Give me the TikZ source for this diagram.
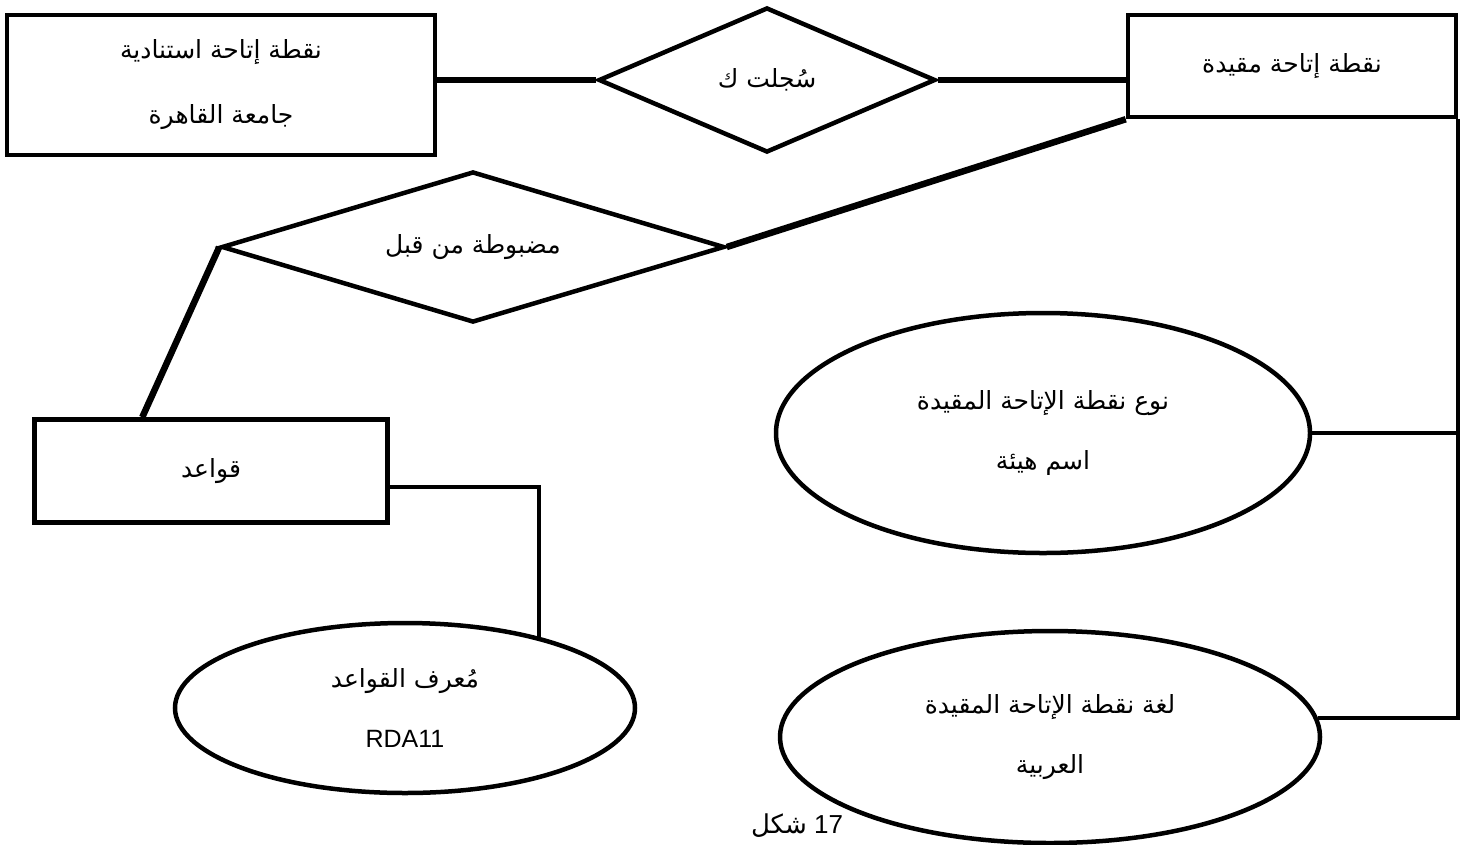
\documentclass[tikz,border=0pt]{standalone}
\usepackage{fontspec}
\setmainfont{Liberation Sans}
\newfontfamily\arabicfont[Script=Arabic]{DejaVu Sans}
\TeXXeTstate=1
\usetikzlibrary{shapes.geometric,calc}
\newcommand{\artxt}[1]{{\arabicfont\beginR #1\endR}}
\tikzset{
    entitybox/.style={
        rectangle,
        draw=black, % 边框黑色
        line width=4.5pt,
        fill=white,
        inner sep=0,
        align=center,
        font=\fontsize{25}{65}\selectfont
    },
    relationdiamond/.style={
        diamond,
        draw=black,
        line width=4.5pt,
        fill=white,
        inner sep=0,
        shape aspect=3.3, % 扁菱形
        font=\fontsize{25}{30}\selectfont
    },
    attrellipse/.style={
        ellipse,
        draw=black,
        line width=4.5pt,
        fill=white,
        inner sep=0,
        align=center,
        font=\fontsize{25}{60}\selectfont
    },
    heavyline/.style={line width=6.5pt},
    lightline/.style={line width=4pt}
}

\begin{document}
\begin{tikzpicture}[x=1pt,y=-1pt]
    \useasboundingbox (0,0) rectangle (1472,844);
    % 标题
    \node[font=\fontsize{26}{30}\selectfont, anchor=north] (caption) at (797,810) {\artxt{شكل} 17};
    % 实体
    \node[entitybox, minimum width=428, minimum height=140] (source) at (221,85)
        {\artxt{نقطة إتاحة استنادية}\\\artxt{جامعة القاهرة}};
    \node[entitybox, minimum width=328, minimum height=102] (access) at (1292,66)
        {\artxt{نقطة إتاحة مقيدة}};
    \node[entitybox, minimum width=353, minimum height=103] (rules) at (211,471)
        {\artxt{قواعد}};
    % 关系
    \node[relationdiamond, minimum width=337, minimum height=145] (recorded) at (767,80)
        {\artxt{سُجلت ك}};
    \node[relationdiamond, minimum width=503, minimum height=151] (controlled) at (473,247)
        {\artxt{مضبوطة من قبل}};
    % 属性
    \node[attrellipse, minimum width=460, minimum height=170] (ruleid) at (405,708)
        {\artxt{مُعرف القواعد}\\RDA11};
    \node[attrellipse, minimum width=534, minimum height=240] (kind) at (1043,433)
        {\artxt{نوع نقطة الإتاحة المقيدة}\\\artxt{اسم هيئة}};
    \node[attrellipse, minimum width=540, minimum height=212] (lang) at (1050,737)
        {\artxt{لغة نقطة الإتاحة المقيدة}\\\artxt{العربية}};
    % 连线
    \draw[heavyline] (source.east |- recorded.west) -- (recorded.west);
    \draw[heavyline] (recorded.east) -- (recorded.east -| access.west);
    \draw[heavyline] (access.south west) -- (controlled.east);
    \draw[heavyline] (controlled.west) -- ($(rules.north west)+(110,0)$);
    \draw[lightline] ([yshift=-16pt]rules.east) -| (ruleid.28);
    \draw[lightline] (access.south east) |- (lang.4);
    \draw[lightline] (kind.east) -- (kind.east -| access.south east);
\end{tikzpicture}
\end{document}
